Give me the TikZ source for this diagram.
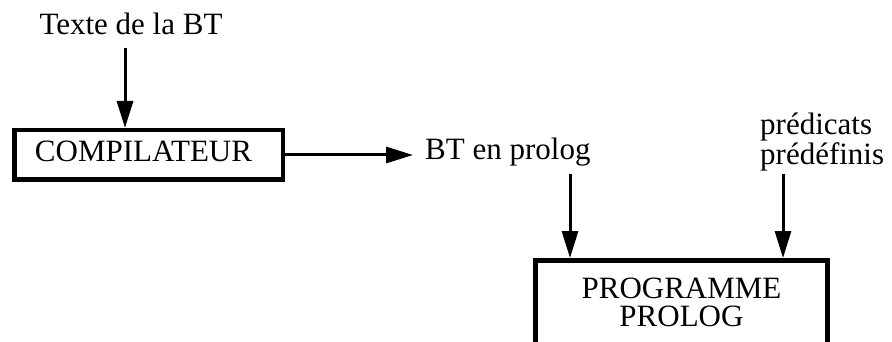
\documentclass[tikz,border=0pt]{standalone}
\usepackage{fontspec}
\setmainfont{Liberation Serif}
\usetikzlibrary{arrows.meta}
\tikzset{
  lbl/.style={inner sep=0pt, font=\fontsize{31}{28}\selectfont},
  boxnode/.style={draw, line width=#1, inner sep=0pt, font=\fontsize{31}{28}\selectfont, align=center},
  arr/.style={line width=3pt, -{Triangle[length=27pt,width=16pt]}}
}
\begin{document}
\begin{tikzpicture}[x=1pt,y=-1pt]
\useasboundingbox (0,0) rectangle (892,342);
\node[lbl, anchor=base] (texte) at (131,35) {Texte de la BT};
\node[boxnode=4.5pt, text height=20pt, text depth=6pt, minimum width=268.5pt, minimum height=49.5pt] (comp) at (148.5,155) {COMPILATEUR\hspace*{10pt}};
\node[lbl, anchor=base west] (btp) at (425,160) {BT en prolog};
\node[lbl, anchor=north west, align=left] (pred) at (760,113) {prédicats\\prédéfinis};
\node[boxnode=5pt, minimum width=292pt, minimum height=83.5pt] (prog) at (681.5,302.25) {PROGRAMME\\PROLOG};
\coordinate (a1) at (125,0);
\coordinate (a2) at (570,0);
\coordinate (a3) at (783,0);
\draw[arr] ([yshift=-12pt]texte.south -| a1) -- (comp.north -| a1);
\draw[arr] (comp.east) -- ([xshift=-12pt]btp.west |- comp.east);
\draw[arr] ([yshift=-7pt]btp.south -| a2) -- (prog.north -| a2);
\draw[arr] ([yshift=-3pt]pred.south -| a3) -- (prog.north -| a3);
\end{tikzpicture}
\end{document}
